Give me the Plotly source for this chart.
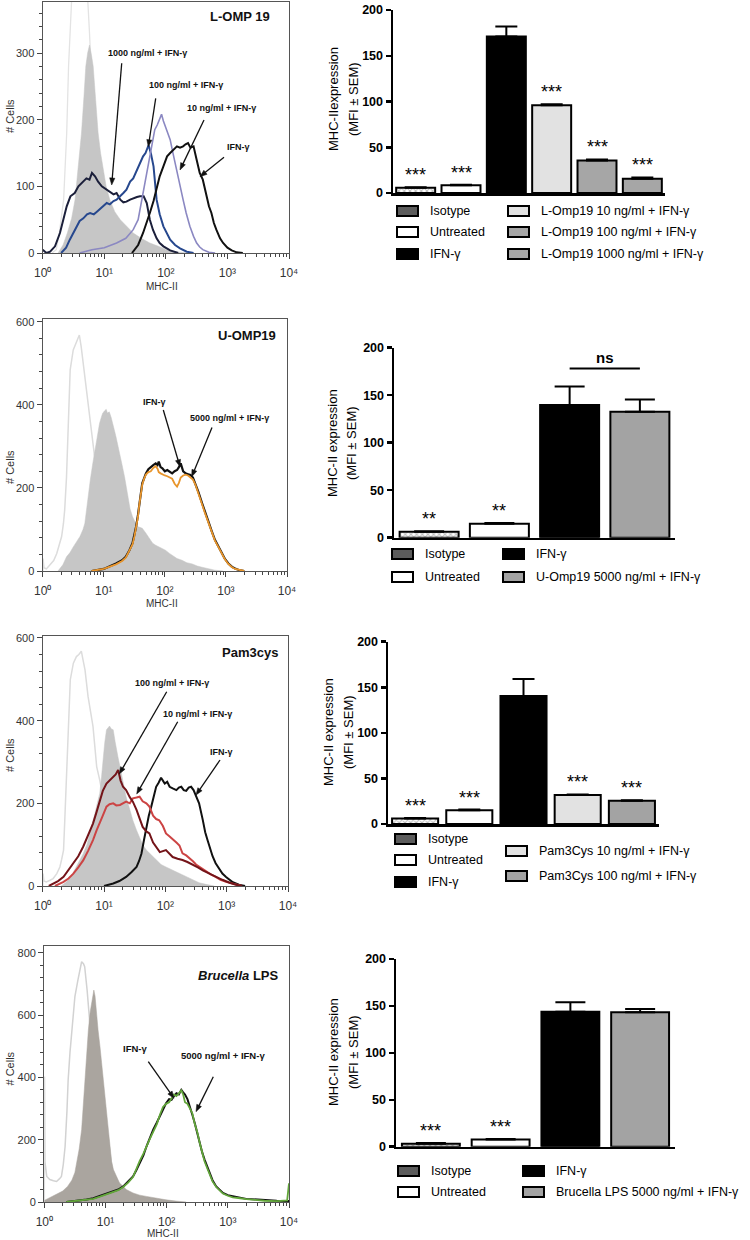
import numpy as np
import plotly.graph_objects as go

W, H = 750, 1240
FONT = "Arial, 'Liberation Sans', Helvetica, sans-serif"

# ======================= HISTOGRAM DATA (log10 MHC-II, # cells) =======================
# ---- A : L-OMP 19 ----
A_iso_log = [0.15, 0.22, 0.27, 0.34, 0.39, 0.42, 0.47, 0.52, 0.58, 0.65, 0.72, 0.76, 0.80, 0.85, 0.90, 0.95, 1.05, 1.20, 1.40]
A_iso_cnt = [0, 5, 30, 80, 180, 280, 380, 440, 470, 455, 400, 330, 240, 150, 90, 50, 20, 5, 0]
A_unt_log = [0.25, 0.33, 0.40, 0.47, 0.525, 0.58, 0.63, 0.67, 0.70, 0.73, 0.76, 0.79, 0.82, 0.86, 0.90, 0.94, 0.98, 1.03, 1.09, 1.17, 1.26, 1.36, 1.47, 1.60, 1.74, 1.88, 2.01, 2.15, 2.34]
A_unt_cnt = [0, 12, 30, 52, 80, 130, 180, 235, 280, 300, 312, 298, 280, 230, 180, 150, 125, 100, 80, 62, 50, 40, 30, 22, 15, 10, 5, 2, 0]
A_1000_log = [0.00, 0.03, 0.06, 0.12, 0.20, 0.28, 0.34, 0.39, 0.45, 0.52, 0.58, 0.64, 0.71, 0.76, 0.80, 0.85, 0.90, 0.96, 1.04, 1.10, 1.15, 1.20, 1.26, 1.31, 1.36, 1.42, 1.47, 1.53, 1.58, 1.64, 1.69, 1.74, 1.79, 1.85, 1.90, 1.96, 2.07, 2.20]
A_1000_cnt = [5, 3, 0, 2, 10, 30, 50, 70, 85, 90, 100, 105, 112, 110, 120, 115, 107, 100, 95, 92, 88, 90, 80, 76, 77, 80, 82, 84, 85, 85, 75, 50, 35, 22, 15, 10, 4, 0]
A_100_log = [0.30, 0.38, 0.44, 0.50, 0.55, 0.60, 0.66, 0.72, 0.77, 0.83, 0.88, 0.93, 0.98, 1.04, 1.09, 1.15, 1.20, 1.26, 1.31, 1.36, 1.42, 1.47, 1.53, 1.58, 1.63, 1.67, 1.72, 1.76, 1.80, 1.85, 1.90, 1.96, 2.02, 2.07, 2.15, 2.23, 2.34, 2.45]
A_100_cnt = [0, 8, 20, 30, 40, 48, 52, 58, 60, 58, 62, 66, 70, 75, 73, 78, 80, 85, 90, 95, 107, 112, 125, 135, 145, 150, 162, 148, 130, 80, 58, 40, 28, 20, 12, 7, 2, 0]
A_10_log = [0.60, 0.80, 1.00, 1.20, 1.35, 1.47, 1.55, 1.60, 1.65, 1.70, 1.74, 1.78, 1.82, 1.86, 1.90, 1.93, 1.96, 1.99, 2.03, 2.07, 2.12, 2.17, 2.22, 2.28, 2.33, 2.39, 2.45, 2.50, 2.55, 2.60, 2.70, 2.80]
A_10_cnt = [0, 5, 8, 15, 22, 35, 50, 75, 105, 130, 150, 168, 185, 192, 200, 208, 198, 190, 180, 170, 148, 125, 103, 80, 60, 40, 25, 15, 9, 5, 1, 0]
A_ifn_log = [1.45, 1.55, 1.63, 1.69, 1.74, 1.80, 1.85, 1.90, 1.96, 2.02, 2.07, 2.12, 2.18, 2.23, 2.28, 2.32, 2.36, 2.40, 2.45, 2.50, 2.55, 2.60, 2.66, 2.70, 2.74, 2.78, 2.82, 2.88, 2.93, 3.00, 3.07, 3.15, 3.25]
A_ifn_cnt = [0, 12, 30, 45, 60, 78, 95, 115, 130, 145, 150, 155, 160, 158, 160, 163, 165, 158, 160, 140, 120, 110, 84, 70, 60, 45, 35, 22, 15, 8, 4, 1, 0]

# ---- C : U-OMP19 ----
C_iso_log = [0.00, 0.005, 0.02, 0.06, 0.12, 0.18, 0.23, 0.28, 0.31, 0.34, 0.36, 0.39, 0.42, 0.45, 0.50, 0.55, 0.58, 0.60, 0.63, 0.66, 0.69, 0.74, 0.80, 0.85, 0.88, 0.93, 0.98, 1.07, 1.15, 1.25, 1.35, 1.50, 1.70]
C_iso_cnt = [0, 30, 8, 5, 15, 25, 42, 65, 83, 115, 147, 227, 387, 484, 532, 548, 560, 568, 540, 505, 468, 403, 347, 275, 259, 211, 171, 130, 90, 50, 25, 8, 0]
C_unt_log = [0.25, 0.33, 0.39, 0.45, 0.50, 0.56, 0.61, 0.66, 0.69, 0.72, 0.74, 0.78, 0.82, 0.85, 0.88, 0.91, 0.93, 0.96, 0.98, 1.01, 1.04, 1.06, 1.09, 1.12, 1.15, 1.18, 1.20, 1.23, 1.26, 1.30, 1.34, 1.39, 1.43, 1.47, 1.51, 1.55, 1.59, 1.63, 1.69, 1.74, 1.80, 1.85, 1.90, 1.96, 2.01, 2.07, 2.12, 2.20, 2.28, 2.36, 2.45, 2.53, 2.61, 2.72, 2.82, 2.95]
C_unt_cnt = [0, 15, 34, 45, 58, 70, 83, 100, 115, 150, 179, 220, 259, 285, 307, 330, 355, 370, 379, 385, 389, 380, 383, 370, 355, 335, 323, 300, 283, 255, 227, 179, 150, 131, 118, 107, 105, 103, 91, 80, 67, 62, 58, 53, 50, 43, 38, 30, 26, 20, 17, 12, 9, 5, 2, 0]
C_ifn_log = [0.80, 1.00, 1.20, 1.30, 1.36, 1.42, 1.47, 1.50, 1.53, 1.56, 1.58, 1.61, 1.63, 1.66, 1.69, 1.73, 1.77, 1.81, 1.85, 1.88, 1.90, 1.93, 1.96, 2.00, 2.04, 2.08, 2.12, 2.16, 2.20, 2.23, 2.26, 2.30, 2.34, 2.38, 2.42, 2.46, 2.50, 2.55, 2.61, 2.66, 2.72, 2.77, 2.82, 2.88, 2.93, 2.98, 3.04, 3.10, 3.15, 3.22, 3.30]
C_ifn_cnt = [0, 5, 18, 26, 34, 50, 67, 85, 107, 135, 163, 190, 211, 225, 235, 245, 251, 255, 259, 255, 263, 250, 247, 240, 243, 238, 235, 240, 243, 250, 259, 240, 235, 233, 231, 225, 211, 190, 163, 140, 115, 95, 75, 58, 42, 30, 18, 10, 6, 2, 0]
C_5000_cnt = [0, 5, 16, 24, 32, 48, 64, 82, 104, 130, 158, 186, 208, 222, 232, 238, 240, 248, 252, 246, 238, 235, 232, 230, 228, 225, 222, 210, 203, 212, 225, 230, 232, 230, 226, 220, 208, 188, 160, 138, 113, 93, 73, 57, 41, 29, 17, 9, 5, 2, 0]

# ---- E : Pam3cys ----
E_iso_log = [0.00, 0.005, 0.02, 0.06, 0.12, 0.17, 0.23, 0.28, 0.31, 0.34, 0.36, 0.39, 0.42, 0.45, 0.50, 0.55, 0.59, 0.63, 0.66, 0.69, 0.74, 0.78, 0.82, 0.88, 0.93, 1.00, 1.08, 1.18, 1.28, 1.40, 1.55, 1.75]
E_iso_cnt = [0, 30, 12, 10, 14, 18, 30, 46, 65, 87, 159, 264, 402, 499, 539, 555, 560, 568, 545, 523, 458, 420, 386, 289, 256, 200, 140, 80, 40, 18, 6, 0]
E_unt_log = [0.30, 0.39, 0.47, 0.55, 0.61, 0.66, 0.72, 0.77, 0.82, 0.85, 0.89, 0.93, 0.96, 0.98, 1.01, 1.04, 1.07, 1.09, 1.12, 1.15, 1.18, 1.20, 1.23, 1.26, 1.31, 1.36, 1.42, 1.47, 1.53, 1.58, 1.63, 1.69, 1.77, 1.85, 1.93, 2.01, 2.12, 2.23, 2.34, 2.45, 2.55, 2.66, 2.80]
E_unt_cnt = [0, 10, 25, 46, 62, 78, 100, 127, 155, 175, 200, 224, 265, 305, 345, 378, 385, 387, 380, 378, 350, 337, 310, 289, 250, 216, 185, 159, 135, 119, 100, 87, 75, 62, 52, 46, 38, 30, 22, 14, 8, 4, 0]
E_100_log = [0.10, 0.17, 0.25, 0.34, 0.42, 0.50, 0.58, 0.66, 0.74, 0.82, 0.88, 0.93, 0.98, 1.04, 1.09, 1.15, 1.19, 1.23, 1.27, 1.31, 1.36, 1.42, 1.47, 1.53, 1.58, 1.63, 1.69, 1.74, 1.80, 1.85, 1.91, 2.01, 2.12, 2.20, 2.28, 2.36, 2.45, 2.53, 2.61, 2.69, 2.77, 2.85, 2.93, 3.05, 3.15, 3.25]
E_100_cnt = [0, 6, 12, 22, 38, 54, 72, 95, 122, 151, 180, 208, 230, 248, 255, 264, 270, 281, 255, 240, 232, 215, 204, 184, 165, 143, 132, 127, 105, 95, 82, 87, 70, 66, 63, 58, 52, 45, 38, 32, 28, 22, 15, 8, 3, 0]
E_10_log = [0.20, 0.34, 0.42, 0.50, 0.58, 0.66, 0.74, 0.82, 0.88, 0.93, 0.98, 1.04, 1.09, 1.15, 1.20, 1.26, 1.31, 1.36, 1.42, 1.47, 1.53, 1.58, 1.63, 1.69, 1.74, 1.80, 1.85, 1.90, 1.96, 2.01, 2.07, 2.12, 2.18, 2.23, 2.28, 2.34, 2.39, 2.45, 2.50, 2.55, 2.61, 2.66, 2.74, 2.82, 2.90, 2.99, 3.10, 3.25]
E_10_cnt = [0, 10, 18, 30, 45, 62, 85, 111, 135, 151, 170, 192, 198, 200, 195, 196, 200, 204, 200, 212, 214, 216, 205, 200, 192, 170, 162, 159, 145, 127, 120, 112, 105, 98, 79, 74, 68, 60, 52, 47, 40, 34, 28, 22, 15, 10, 5, 0]
E_ifn_log = [1.00, 1.15, 1.25, 1.36, 1.45, 1.53, 1.57, 1.61, 1.65, 1.69, 1.73, 1.77, 1.81, 1.85, 1.89, 1.93, 1.96, 1.99, 2.03, 2.07, 2.12, 2.18, 2.22, 2.26, 2.30, 2.34, 2.38, 2.42, 2.46, 2.50, 2.55, 2.61, 2.65, 2.69, 2.72, 2.77, 2.82, 2.88, 2.93, 2.99, 3.05, 3.10, 3.15, 3.20, 3.30]
E_ifn_cnt = [0, 6, 12, 22, 34, 46, 60, 78, 110, 143, 170, 192, 220, 240, 250, 262, 255, 248, 252, 240, 236, 232, 238, 240, 232, 230, 238, 240, 232, 216, 200, 160, 130, 110, 95, 72, 55, 40, 30, 22, 14, 9, 6, 3, 0]

# ---- G : Brucella LPS ----
G_iso_log = [0.00, 0.003, 0.01, 0.04, 0.09, 0.15, 0.20, 0.25, 0.28, 0.31, 0.34, 0.37, 0.39, 0.42, 0.45, 0.50, 0.55, 0.58, 0.61, 0.64, 0.66, 0.70, 0.75, 0.80, 0.85, 0.90, 0.95, 1.00, 1.05, 1.10, 1.15, 1.25, 1.40, 1.60]
G_iso_cnt = [0, 403, 130, 82, 72, 68, 66, 75, 82, 120, 178, 290, 392, 480, 552, 659, 713, 740, 771, 765, 755, 680, 560, 440, 350, 300, 270, 250, 200, 120, 60, 20, 5, 0]
G_unt_log = [0.00, 0.10, 0.20, 0.30, 0.38, 0.45, 0.50, 0.53, 0.57, 0.61, 0.64, 0.66, 0.69, 0.72, 0.75, 0.77, 0.79, 0.81, 0.83, 0.85, 0.88, 0.91, 0.94, 0.96, 0.99, 1.02, 1.05, 1.07, 1.10, 1.13, 1.18, 1.23, 1.29, 1.34, 1.45, 1.56, 1.67, 1.83, 1.99, 2.15, 2.32]
G_unt_cnt = [5, 15, 25, 35, 50, 70, 95, 125, 170, 232, 320, 392, 480, 552, 610, 638, 665, 680, 660, 606, 550, 499, 440, 392, 330, 264, 210, 168, 130, 104, 80, 61, 50, 40, 29, 22, 18, 12, 7, 3, 0]
G_ifn_log = [0.36, 0.50, 0.69, 0.80, 0.91, 1.02, 1.13, 1.21, 1.29, 1.37, 1.45, 1.50, 1.56, 1.62, 1.67, 1.72, 1.78, 1.84, 1.89, 1.94, 1.99, 2.04, 2.08, 2.12, 2.16, 2.20, 2.24, 2.27, 2.30, 2.34, 2.38, 2.42, 2.46, 2.50, 2.54, 2.58, 2.62, 2.66, 2.70, 2.75, 2.81, 2.87, 2.92, 3.00, 3.08, 3.20, 3.30, 3.45, 3.60, 3.80, 3.97, 4.00]
G_ifn_cnt = [0, 3, 8, 12, 20, 28, 34, 40, 50, 65, 82, 100, 125, 150, 178, 205, 232, 255, 275, 300, 317, 330, 328, 340, 349, 345, 360, 352, 345, 330, 307, 280, 253, 220, 189, 160, 136, 115, 93, 70, 50, 38, 29, 22, 18, 14, 10, 8, 5, 4, 3, 3]
G_lps_cnt = [0, 3, 7, 10, 17, 25, 32, 38, 48, 62, 80, 105, 132, 155, 180, 200, 225, 250, 280, 305, 315, 320, 332, 345, 340, 350, 358, 345, 320, 315, 300, 285, 250, 225, 190, 155, 130, 110, 88, 66, 48, 36, 27, 20, 15, 12, 9, 7, 4, 3, 5, 60]

# ======================= BAR DATA (MFI, SEM) =======================
B_cats = ["Isotype", "Untreated", "IFN-γ", "L-Omp19 10 ng/ml + IFN-γ", "L-Omp19 100 ng/ml + IFN-γ", "L-Omp19 1000 ng/ml + IFN-γ"]
B_mean = [5.8, 8.4, 171.0, 96.0, 35.5, 15.5]
B_sem = [0.5, 0.6, 11.0, 1.0, 1.2, 1.5]
B_sig = ["***", "***", "", "***", "***", "***"]
B_col = ["#bdbdbd", "#ffffff", "#000000", "#e2e2e2", "#a6a6a6", "#a6a6a6"]

D_cats = ["Isotype", "Untreated", "IFN-γ", "U-Omp19 5000 ng/ml + IFN-γ"]
D_mean = [6.3, 14.8, 139.6, 132.6]
D_sem = [0.5, 0.8, 19.5, 13.0]
D_sig = ["**", "**", "", ""]
D_col = ["#bdbdbd", "#ffffff", "#000000", "#a3a3a3"]
D_ns_level = 178

F_cats = ["Isotype", "Untreated", "IFN-γ", "Pam3Cys 10 ng/ml + IFN-γ", "Pam3Cys 100 ng/ml + IFN-γ"]
F_mean = [5.9, 15.0, 140.5, 31.7, 25.5]
F_sem = [0.8, 0.8, 18.5, 0.8, 0.5]
F_sig = ["***", "***", "", "***", "***"]
F_col = ["#bdbdbd", "#ffffff", "#000000", "#e2e2e2", "#a3a3a3"]

H_cats = ["Isotype", "Untreated", "IFN-γ", "Brucella LPS 5000 ng/ml + IFN-γ"]
H_mean = [3.2, 7.8, 143.8, 143.2]
H_sem = [0.8, 0.5, 10.0, 3.5]
H_sig = ["***", "***", "", ""]
H_col = ["#bdbdbd", "#ffffff", "#000000", "#a3a3a3"]

# ======================= helpers =======================
def PX(x):
    return x / W


def PY(y):
    return 1 - y / H


fig = go.Figure()
annotations = []
shapes = []

DEC_VALS = [1, 10, 100, 1000, 10000]
DEC_TEXT = ["10⁰", "10¹", "10²", "10³", "10⁴"]
MINOR_VALS = [k * 10 ** d for d in range(4) for k in range(2, 10)]


def hist_panel(n, x0, x1, top, bot, ymax, dtick, minor, traces):
    s = "" if n == 1 else str(n)
    layout = {
        "xaxis" + s: dict(domain=[PX(x0), PX(x1)], anchor="y" + s, type="log", range=[0, 4],
                          automargin=False,
                          tickvals=DEC_VALS, ticktext=DEC_TEXT, ticks="outside", ticklen=5,
                          ticklabelstandoff=3,
                          tickcolor="#444", tickwidth=1,
                          minor=dict(tickvals=MINOR_VALS, ticks="outside", ticklen=3, tickcolor="#444"),
                          showline=True, linecolor="#555", linewidth=1.2, mirror=True,
                          showgrid=False, zeroline=False,
                          tickfont=dict(family=FONT, size=12, color="#333")),
        "yaxis" + s: dict(domain=[PY(bot), PY(top)], anchor="x" + s, range=[0, ymax],
                          automargin=False,
                          tickvals=list(range(0, int(ymax) + 1, dtick)), ticks="outside", ticklen=5,
                          tickcolor="#444", minor=dict(dtick=minor, ticks="outside", ticklen=3, tickcolor="#444"),
                          showline=True, linecolor="#555", linewidth=1.2, mirror=True,
                          showgrid=False, zeroline=False,
                          tickfont=dict(family=FONT, size=11, color="#333")),
    }
    fig.update_layout(**layout)
    for logs, cnts, color, width, fill in traces:
        fig.add_trace(go.Scatter(
            x=np.power(10.0, logs), y=cnts, mode="lines",
            line=dict(color=color, width=width),
            fill="tozeroy" if fill else None, fillcolor=fill if fill else None,
            xaxis="x" + s, yaxis="y" + s, hoverinfo="skip", showlegend=False))


def bar_panel(n, x0, x1, ytop, ybot, cats, mean, sem, sig, cols, bw, capw):
    s = str(n)
    fig.update_layout(**{
        "xaxis" + s: dict(domain=[PX(x0), PX(x1)], anchor="y" + s, type="category",
                          automargin=False,
                          range=[-0.5, len(cats) - 0.5], showline=True, linecolor="black",
                          linewidth=2.5, showticklabels=False, ticks="", showgrid=False, zeroline=False),
        "yaxis" + s: dict(domain=[PY(ybot), PY(ytop)], anchor="x" + s, range=[0, 200],
                          automargin=False,
                          tickvals=[0, 50, 100, 150, 200], ticks="outside", ticklen=5, tickwidth=2.5,
                          tickcolor="black", showline=True, linecolor="black", linewidth=2.5,
                          showgrid=False, zeroline=False,
                          tickfont=dict(family=FONT, size=12.5, color="black", weight="bold")),
    })
    shapes_pat = ["x" if c == "Isotype" else "" for c in cats]
    fig.add_trace(go.Bar(
        x=cats, y=mean, width=bw,
        marker=dict(color=cols, line=dict(color="black", width=2),
                    pattern=dict(shape=shapes_pat, fgcolor="#222", size=4, solidity=0.45)),
        error_y=dict(type="data", symmetric=False, array=sem, arrayminus=[0] * len(sem),
                     color="black", thickness=2, width=capw),
        xaxis="x" + s, yaxis="y" + s, hoverinfo="skip", showlegend=False))
    for c, m, e, t in zip(cats, mean, sem, sig):
        if t:
            annotations.append(dict(x=c, y=m + e, xref="x" + s, yref="y" + s, text=t, showarrow=False,
                                    yanchor="bottom", yshift=0,
                                    font=dict(family=FONT, size=18, color="black")))


def text(x, y, t, size, anchor="center", color="#111", angle=0):
    annotations.append(dict(x=PX(x), y=PY(y), xref="paper", yref="paper", text=t, showarrow=False,
                            xanchor=anchor, yanchor="middle", textangle=angle,
                            font=dict(family=FONT, size=size, color=color)))


def arrow(tx, ty, hx, hy, color="#111"):
    # shaft + filled arrowhead, drawn as shapes in page pixels
    dx, dy = hx - tx, hy - ty
    L = (dx * dx + dy * dy) ** 0.5
    ux, uy = dx / L, dy / L
    hl, hw = 7.0, 2.6
    bx, by = hx - hl * ux, hy - hl * uy
    px_, py_ = -uy, ux
    shapes.append(dict(type="line", xref="paper", yref="paper",
                       x0=PX(tx), y0=PY(ty), x1=PX(bx + 0.5 * ux), y1=PY(by + 0.5 * uy),
                       line=dict(color=color, width=1.3)))
    path = "M {:.5f},{:.5f} L {:.5f},{:.5f} L {:.5f},{:.5f} Z".format(
        PX(hx), PY(hy), PX(bx + hw * px_), PY(by + hw * py_), PX(bx - hw * px_), PY(by - hw * py_))
    shapes.append(dict(type="path", xref="paper", yref="paper", path=path,
                       fillcolor=color, line=dict(color=color, width=0.5)))


LEG_FONT = 12.5


def legend_item(sx, yc, label, fill):
    shapes.append(dict(type="rect", xref="paper", yref="paper", x0=PX(sx), x1=PX(sx + 21),
                       y0=PY(yc + 5), y1=PY(yc - 5), line=dict(color="black", width=2),
                       fillcolor=fill))
    text(sx + 31, yc, label, LEG_FONT, anchor="left", color="black")


ISO_SWATCH = "#5c5c5c"

# ======================= PANEL A / B =======================
hist_panel(1, 42.7, 289.0, 2.0, 253.0, 376.5, 100, 20, [
    (A_iso_log, A_iso_cnt, "#e3e3e3", 1.3, None),
    (A_unt_log, A_unt_cnt, "#c6c6c6", 0.5, "#c6c6c6"),
    (A_1000_log, A_1000_cnt, "#1b1f3a", 2.0, None),
    (A_100_log, A_100_cnt, "#27488e", 2.0, None),
    (A_10_log, A_10_cnt, "#8b88c2", 1.6, None),
    (A_ifn_log, A_ifn_cnt, "#111111", 2.0, None),
])
text(272, 17, "<b>L-OMP 19</b>", 13, anchor="right")
text(147, 53, "<b>1000 ng/ml + IFN-γ</b>", 9)
text(186, 85, "<b>100 ng/ml + IFN-γ</b>", 9)
text(221, 108, "<b>10 ng/ml + IFN-γ</b>", 9)
text(238, 147, "<b>IFN-γ</b>", 9)
arrow(121.7, 63.3, 111.7, 185)
arrow(155.7, 98.3, 148.3, 146.7)
arrow(204, 120, 180, 170)
arrow(224, 157.3, 200, 176.7)
text(10, 116, "# Cells", 11, color="#333", angle=-90)
text(162, 286, "MHC-II", 10, color="#333")

bar_panel(2, 393, 665, 10, 193, B_cats, B_mean, B_sem, B_sig, B_col, 0.86, 11)
text(333, 99, "MHC-IIexpression", 13, color="black", angle=-90)
text(353, 99, "(MFI ± SEM)", 13, color="black", angle=-90)
for (sx, yc), lab, col in zip([(397, 211), (397, 232), (397, 254), (508, 211), (508, 232), (508, 254)],
                              B_cats, [ISO_SWATCH] + B_col[1:]):
    legend_item(sx, yc, lab, col)

# ======================= PANEL C / D =======================
hist_panel(3, 42.7, 287.0, 319.0, 571.0, 606.5, 200, 40, [
    (C_iso_log, C_iso_cnt, "#dcdcdc", 1.5, None),
    (C_unt_log, C_unt_cnt, "#c6c6c6", 0.5, "#c6c6c6"),
    (C_ifn_log, C_ifn_cnt, "#111111", 2.2, None),
    (C_ifn_log, C_5000_cnt, "#e8952c", 1.8, None),
])
text(278, 335, "<b>U-OMP19</b>", 13, anchor="right")
text(154, 402, "<b>IFN-γ</b>", 9)
text(230, 418, "<b>5000 ng/ml + IFN-γ</b>", 9)
arrow(163.3, 410, 180, 466.7)
arrow(212, 427.5, 191.7, 476.7)
text(10, 467, "# Cells", 11, color="#333", angle=-90)
text(162, 603, "MHC-II", 10, color="#333")

bar_panel(4, 394, 675, 347.7, 537.7, D_cats, D_mean, D_sem, D_sig, D_col, 0.84, 15)
shapes.append(dict(type="line", xref="x4", yref="y4", x0=2, x1=3, y0=D_ns_level, y1=D_ns_level,
                   line=dict(color="black", width=2)))
annotations.append(dict(x=2.5, y=D_ns_level, xref="x4", yref="y4", text="<b>ns</b>", showarrow=False,
                        yanchor="bottom", yshift=1, font=dict(family=FONT, size=15, color="black")))
text(333, 443, "MHC-II expression", 13, color="black", angle=-90)
text(352, 443, "(MFI ± SEM)", 13, color="black", angle=-90)
for (sx, yc), lab, col in zip([(392, 554), (392, 577), (503, 554), (503, 577)],
                              D_cats, [ISO_SWATCH] + D_col[1:]):
    legend_item(sx, yc, lab, col)

# ======================= PANEL E / F =======================
hist_panel(5, 42.7, 288.0, 636.0, 886.0, 604.8, 200, 40, [
    (E_iso_log, E_iso_cnt, "#dcdcdc", 1.5, None),
    (E_unt_log, E_unt_cnt, "#c6c6c6", 0.5, "#c6c6c6"),
    (E_ifn_log, E_ifn_cnt, "#111111", 2.0, None),
    (E_10_log, E_10_cnt, "#cc4444", 2.0, None),
    (E_100_log, E_100_cnt, "#741419", 2.0, None),
])
text(280, 652, "<b>Pam3cys</b>", 13, anchor="right")
text(172, 683, "<b>100 ng/ml + IFN-γ</b>", 9)
text(197, 714, "<b>10 ng/ml + IFN-γ</b>", 9)
text(221, 752, "<b>IFN-γ</b>", 9)
arrow(166.7, 691.7, 119.3, 774)
arrow(177.7, 721.7, 136.7, 794)
arrow(220, 760, 196, 795)
text(10, 755, "# Cells", 11, color="#333", angle=-90)

bar_panel(6, 388, 659, 641.7, 824, F_cats, F_mean, F_sem, F_sig, F_col, 0.85, 11)
text(328, 732, "MHC-II expression", 13, color="black", angle=-90)
text(348, 732, "(MFI ± SEM)", 13, color="black", angle=-90)
for (sx, yc), lab, col in zip([(395, 839), (395, 860), (395, 882), (506, 851), (506, 876)],
                              F_cats, [ISO_SWATCH] + F_col[1:]):
    legend_item(sx, yc, lab, col)

# ======================= PANEL G / H =======================
hist_panel(7, 44.3, 289.0, 946.0, 1202.0, 821.5, 200, 40, [
    (G_iso_log, G_iso_cnt, "#d2d2d2", 1.5, None),
    (G_unt_log, G_unt_cnt, "#aaa59f", 0.5, "#aaa59f"),
    (G_ifn_log, G_ifn_cnt, "#111111", 2.0, None),
    (G_ifn_log, G_lps_cnt, "#62a63a", 1.8, None),
])
text(281, 975, "<b><i>Brucella</i> LPS</b>", 13, anchor="right")
text(135, 1048, "<b>IFN-γ</b>", 9.5)
text(223, 1055, "<b>5000 ng/ml + IFN-γ</b>", 9.5)
arrow(148.3, 1061.7, 174, 1098.3)
arrow(213.3, 1076.7, 196, 1111.7)
text(9.5, 1069, "# Cells", 11, color="#333", angle=-90)
text(163, 1233, "MHC-II", 10, color="#333")

bar_panel(8, 396, 675, 959, 1146.7, H_cats, H_mean, H_sem, H_sig, H_col, 0.83, 15)
text(333, 1052, "MHC-II expression", 13, color="black", angle=-90)
text(353, 1052, "(MFI ± SEM)", 13, color="black", angle=-90)
for (sx, yc), lab, col in zip([(398, 1171), (398, 1192), (523, 1171), (523, 1192)],
                              H_cats, [ISO_SWATCH] + H_col[1:]):
    legend_item(sx, yc, lab, col)

fig.update_layout(
    template="none",
    width=W, height=H, margin=dict(l=0, r=0, t=0, b=0, pad=0, autoexpand=False),
    paper_bgcolor="white", plot_bgcolor="white",
    showlegend=False, hovermode=False,
    font=dict(family=FONT, color="black"),
    annotations=annotations, shapes=shapes,
)

fig.write_html("out.html", config={"displayModeBar": False, "staticPlot": True},
               post_script="document.body.style.margin='0px';document.body.style.overflow='hidden';")
